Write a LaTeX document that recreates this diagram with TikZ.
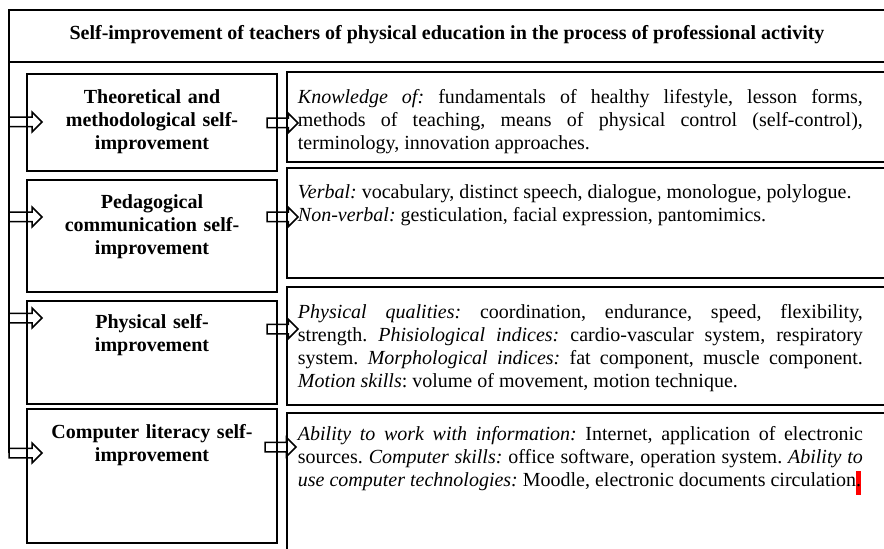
\documentclass[tikz,border=0pt]{standalone}
\usepackage{fontspec}
\setmainfont{Liberation Serif}
\usetikzlibrary{shapes.arrows}

\begin{document}
\frenchspacing
\begin{tikzpicture}[x=0.6pt, y=-0.6pt, line width=1.1pt,
		font=\fontsize{12pt}{13.8pt}\selectfont,
		box/.style={draw, rectangle, inner sep=0pt, outer sep=0pt, anchor=north west, minimum width=#1},
		head/.style={inner sep=0pt, anchor=north, text width=144pt, align=center, font=\fontsize{12pt}{13.8pt}\selectfont\bfseries},
		body/.style={inner sep=0pt, anchor=north west, text width=339pt, align=justify},
		fatarrow/.style={single arrow, draw, line width=0.9pt, inner sep=2.4pt, outer sep=0pt,
			minimum width=10.8pt, single arrow head extend=3pt, minimum height=#1, anchor=tail}]
	\useasboundingbox (0,0) rectangle (884,549);
	\clip (0,0) rectangle (884,549);
	\hyphenpenalty=10000 \exhyphenpenalty=10000

	% title
	\node[box=528.6pt, minimum height=31.2pt] (top) at (9,10) {};
	\node[anchor=base, inner sep=0pt, font=\fontsize{12pt}{13.8pt}\selectfont\bfseries] (title) at (447,40)
		{Self-improvement of teachers of physical education in the process of professional activity};

	% left column
	\node[box=150pt, minimum height=58.2pt] (L1) at (27,74) {};
	\node[box=150pt, minimum height=67.2pt] (L2) at (27,180) {};
	\node[box=150pt, minimum height=61.8pt] (L3) at (27,301) {};
	\node[box=150pt, minimum height=80.4pt] (L4) at (27,409) {};
	\node[head] (l1) at (152,86.5) {\strut Theoretical and\\methodological self-\\improvement};
	\node[head] (l2) at (152,191.5) {\strut Pedagogical\\communication self-\\improvement};
	\node[head] (l3) at (152,311.5) {\strut Physical self-\\improvement};
	\node[head] (l4) at (152,421.5) {\strut Computer literacy self-\\improvement};

	% right column
	\node[box=361.8pt, minimum height=54pt] (R1) at (287,72) {};
	\node[box=361.8pt, minimum height=66pt] (R2) at (287,168) {};
	\node[box=361.8pt, minimum height=70.8pt] (R3) at (287,287) {};
	\node[box=361.8pt, minimum height=90pt] (R4) at (287,413) {};
	\node[body] (r1) at (297,86.5) {\strut\textit{Knowledge of:} fundamentals of healthy lifestyle, lesson forms,\linebreak
		methods of teaching, means of physical control (self-control),\linebreak
		terminology, innovation approaches.};
	\node[body] (r2) at (297,181.5) {\strut\textit{Verbal:} vocabulary, distinct speech, dialogue, monologue, polylogue.\\
		\textit{Non-verbal:} gesticulation, facial expression, pantomimics.};
	\node[body] (r3) at (297,301.5) {\strut\textit{Physical qualities:} coordination, endurance, speed, flexibility,\linebreak
		strength. \textit{Phisiological indices:} cardio-vascular system, respiratory\linebreak
		system. \textit{Morphological indices:} fat component, muscle component.\linebreak
		\textit{Motion skills}: volume of movement, motion technique.};
	\node[body] (r4) at (297,423.5) {\strut\textit{Ability to work with information:} Internet, application of electronic\linebreak
		sources. \textit{Computer skills:} office software, operation system. \textit{Ability to}\linebreak
		\textit{use computer technologies:} Moodle, electronic documents circulation\rlap{\color{red}\rule[-4.8pt]{3pt}{14.4pt}}.};

	% arrows
	\node[fatarrow=19.8pt] (a1) at (9,122) {};
	\node[fatarrow=19.8pt] (a2) at (9,217) {};
	\node[fatarrow=19.8pt] (a3) at (9,318) {};
	\node[fatarrow=19.8pt] (a4) at (9,453) {};
	\node[fatarrow=18.6pt] (b1) at (267,123) {};
	\node[fatarrow=18.6pt] (b2) at (267,217) {};
	\node[fatarrow=18.6pt] (b3) at (267,329) {};
	\node[fatarrow=18.6pt] (b4) at (265,447) {};
	\draw (top.south west) -- (a4.tail);
\end{tikzpicture}
\end{document}
